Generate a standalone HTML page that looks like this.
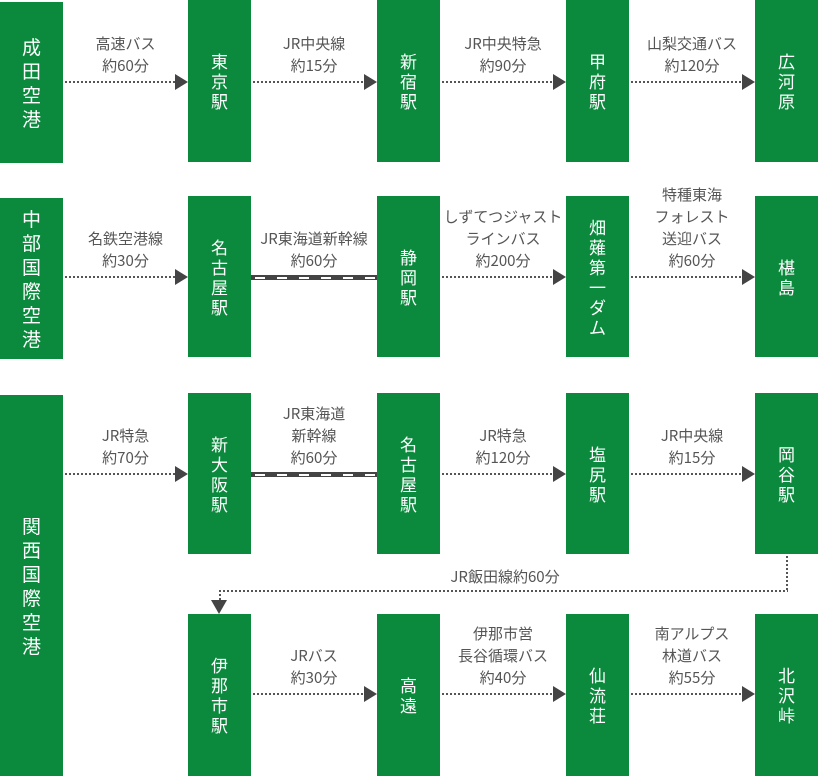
<!DOCTYPE html>
<html><head><meta charset="utf-8"><style>
body{margin:0;width:818px;height:776px;position:relative;background:#fff;font-family:"Noto Sans CJK JP","Liberation Sans",sans-serif;overflow:hidden}
.b{position:absolute;background:#0b8a3d;color:#fff;font-size:17px;line-height:20px;display:flex;align-items:center;justify-content:center;text-align:center}
.l{position:absolute;color:#555;font-size:15px;line-height:22px;text-align:center;white-space:nowrap}
.d{position:absolute;height:2px;background:repeating-linear-gradient(90deg,#555 0 2px,transparent 2px 4px)}
.v{position:absolute;width:2px;background:repeating-linear-gradient(180deg,#555 0 2px,transparent 2px 4px)}
.t{position:absolute;width:0;height:0;border-left:13px solid #444;border-top:8px solid transparent;border-bottom:8px solid transparent}
.s{position:absolute;height:5px;background:#444}
.s::after{content:"";position:absolute;left:4px;right:0;top:1.5px;height:2px;background:repeating-linear-gradient(90deg,#fff 0 10px,transparent 10px 22px)}
</style></head><body>
<!-- Row1 -->
<div class="b" style="left:0;top:2px;width:63px;height:161px;font-size:19px;line-height:24px">成<br>田<br>空<br>港</div>
<div class="b" style="left:188px;top:0;width:63px;height:162px">東<br>京<br>駅</div>
<div class="b" style="left:377px;top:0;width:63px;height:162px">新<br>宿<br>駅</div>
<div class="b" style="left:566px;top:0;width:63px;height:162px">甲<br>府<br>駅</div>
<div class="b" style="left:755px;top:0;width:63px;height:162px">広<br>河<br>原</div>
<div class="l" style="left:63px;width:125px;bottom:699px">高速バス<br>約60分</div>
<div class="l" style="left:251px;width:126px;bottom:699px">JR中央線<br>約15分</div>
<div class="l" style="left:440px;width:126px;bottom:699px">JR中央特急<br>約90分</div>
<div class="l" style="left:629px;width:126px;bottom:699px">山梨交通バス<br>約120分</div>
<div class="d" style="left:65px;width:110px;top:81px"></div><div class="t" style="left:175px;top:74px"></div>
<div class="d" style="left:253px;width:111px;top:81px"></div><div class="t" style="left:364px;top:74px"></div>
<div class="d" style="left:442px;width:111px;top:81px"></div><div class="t" style="left:553px;top:74px"></div>
<div class="d" style="left:631px;width:111px;top:81px"></div><div class="t" style="left:742px;top:74px"></div>
<!-- Row2 -->
<div class="b" style="left:0;top:198px;width:63px;height:161px;font-size:19px;line-height:24px">中<br>部<br>国<br>際<br>空<br>港</div>
<div class="b" style="left:188px;top:196px;width:63px;height:161px">名<br>古<br>屋<br>駅</div>
<div class="b" style="left:377px;top:196px;width:63px;height:161px">静<br>岡<br>駅</div>
<div class="b" style="left:566px;top:196px;width:63px;height:161px">畑<br>薙<br>第<br>一<br>ダ<br>ム</div>
<div class="b" style="left:755px;top:196px;width:63px;height:161px">椹<br>島</div>
<div class="l" style="left:63px;width:125px;bottom:504px">名鉄空港線<br>約30分</div>
<div class="l" style="left:251px;width:126px;bottom:504px">JR東海道新幹線<br>約60分</div>
<div class="l" style="left:440px;width:126px;bottom:504px">しずてつジャスト<br>ラインバス<br>約200分</div>
<div class="l" style="left:629px;width:126px;bottom:504px">特種東海<br>フォレスト<br>送迎バス<br>約60分</div>
<div class="d" style="left:65px;width:110px;top:276px"></div><div class="t" style="left:175px;top:269px"></div>
<div class="s" style="left:251px;width:126px;top:275px"></div>
<div class="d" style="left:442px;width:111px;top:276px"></div><div class="t" style="left:553px;top:269px"></div>
<div class="d" style="left:631px;width:111px;top:276px"></div><div class="t" style="left:742px;top:269px"></div>
<!-- Row3 -->
<div class="b" style="left:0;top:395px;width:63px;height:381px;font-size:19px;line-height:24px">関<br>西<br>国<br>際<br>空<br>港</div>
<div class="b" style="left:188px;top:393px;width:63px;height:161px">新<br>大<br>阪<br>駅</div>
<div class="b" style="left:377px;top:393px;width:63px;height:161px">名<br>古<br>屋<br>駅</div>
<div class="b" style="left:566px;top:393px;width:63px;height:161px">塩<br>尻<br>駅</div>
<div class="b" style="left:755px;top:393px;width:63px;height:161px">岡<br>谷<br>駅</div>
<div class="l" style="left:63px;width:125px;bottom:307px">JR特急<br>約70分</div>
<div class="l" style="left:251px;width:126px;bottom:307px">JR東海道<br>新幹線<br>約60分</div>
<div class="l" style="left:440px;width:126px;bottom:307px">JR特急<br>約120分</div>
<div class="l" style="left:629px;width:126px;bottom:307px">JR中央線<br>約15分</div>
<div class="d" style="left:65px;width:110px;top:473px"></div><div class="t" style="left:175px;top:466px"></div>
<div class="s" style="left:251px;width:126px;top:472px"></div>
<div class="d" style="left:442px;width:111px;top:473px"></div><div class="t" style="left:553px;top:466px"></div>
<div class="d" style="left:631px;width:111px;top:473px"></div><div class="t" style="left:742px;top:466px"></div>
<!-- connector -->
<div class="v" style="left:786px;top:556px;height:36px"></div>
<div class="d" style="left:219px;width:569px;top:590px"></div>
<div class="v" style="left:219px;top:590px;height:10px"></div>
<div class="l" style="left:380px;width:250px;top:566px">JR飯田線約60分</div>
<div style="position:absolute;left:211px;top:600px;width:0;height:0;border-top:14px solid #444;border-left:8px solid transparent;border-right:8px solid transparent"></div>
<!-- Row4 -->
<div class="b" style="left:188px;top:614px;width:63px;height:162px">伊<br>那<br>市<br>駅</div>
<div class="b" style="left:377px;top:614px;width:63px;height:162px">高<br>遠</div>
<div class="b" style="left:566px;top:614px;width:63px;height:162px">仙<br>流<br>荘</div>
<div class="b" style="left:755px;top:614px;width:63px;height:162px">北<br>沢<br>峠</div>
<div class="l" style="left:251px;width:126px;bottom:87px">JRバス<br>約30分</div>
<div class="l" style="left:440px;width:126px;bottom:87px">伊那市営<br>長谷循環バス<br>約40分</div>
<div class="l" style="left:629px;width:126px;bottom:87px">南アルプス<br>林道バス<br>約55分</div>
<div class="d" style="left:253px;width:111px;top:693px"></div><div class="t" style="left:364px;top:686px"></div>
<div class="d" style="left:442px;width:111px;top:693px"></div><div class="t" style="left:553px;top:686px"></div>
<div class="d" style="left:631px;width:111px;top:693px"></div><div class="t" style="left:742px;top:686px"></div>
</body></html>
